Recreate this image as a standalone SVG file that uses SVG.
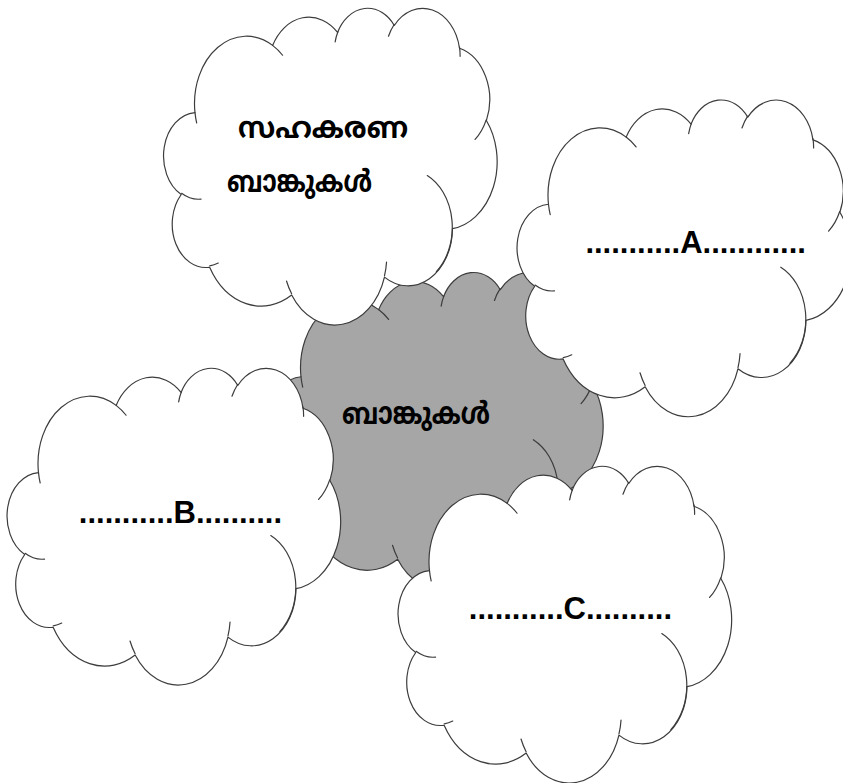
<svg xmlns="http://www.w3.org/2000/svg" xmlns:xlink="http://www.w3.org/1999/xlink" width="843" height="783" viewBox="0 0 843 783">
<style>
.outline{stroke:#3c3c3c;stroke-width:0.36;stroke-linejoin:round}
.hk{fill:none;stroke:#3c3c3c;stroke-width:0.36;stroke-linecap:round}
.white{fill:#ffffff}
.gray{fill:#a6a6a6}
.ml{font-family:"Noto Sans Malayalam","Noto Sans",sans-serif;font-size:30px;font-weight:bold;fill:#000}
.lbl{font-family:"Liberation Sans",Arial,sans-serif;font-size:31px;font-weight:bold;fill:#000}
</style>
<defs>
<path id="cloud" d="M9.03,33.26 A15.63,21.27 0 0 1 32.42,12.04 A12.35,16.82 0 0 1 51.98,7.94 A10.10,13.76 0 0 1 69.06,5.74 A11.24,15.27 0 0 1 88.70,12.91 A12.35,16.84 0 0 1 96.80,35.78 A15.68,21.34 0 0 1 86.58,69.91 A13.39,18.21 0 0 1 66.10,85.21 A15.63,21.33 0 0 1 38.15,90.89 A17.87,24.41 0 0 1 13.44,82.10 A10.09,13.70 0 0 1 4.89,59.14 A10.06,13.76 0 0 1 9.03,33.26 Z"/>
<path id="hooks" d="M10.86,60.59 A10.06,13.76 0 0 1 5.00,58.75 M16.04,80.78 A10.09,13.70 0 0 1 13.47,81.67 M38.14,90.49 A15.63,21.33 0 0 1 36.60,86.46 M66.73,80.44 A15.63,21.33 0 0 1 66.11,84.86 M79.00,53.13 A13.39,18.21 0 0 1 81.74,83.47 M96.75,35.54 A12.35,16.84 0 0 1 93.40,41.74 M88.71,12.56 A11.24,15.27 0 0 1 88.89,15.49 M67.31,9.15 A11.24,15.27 0 0 1 69.03,5.42 M51.25,10.93 A10.10,13.76 0 0 1 52.08,7.71 M32.41,12.02 A15.63,21.27 0 0 1 35.42,15.14 M9.55,36.55 A15.63,21.27 0 0 1 9.03,33.26"/>
</defs>
<rect width="843" height="783" fill="#ffffff"/>

<g id="node-banks">
<g transform="translate(271,271.5) scale(3.32,3.166)">
<use xlink:href="#cloud" class="gray outline"/>
<use xlink:href="#hooks" class="hk"/>
</g>
<text class="ml" x="342" y="424" textLength="148" lengthAdjust="spacingAndGlyphs">ബാങ്കുകൾ</text>
</g>

<g id="node-cooperative">
<g transform="translate(165,7.3) scale(3.32,3.166)">
<use xlink:href="#cloud" class="white outline"/>
<use xlink:href="#hooks" class="hk"/>
</g>
<text class="ml" x="238" y="138" textLength="170" lengthAdjust="spacingAndGlyphs">സഹകരണ</text>
<text class="ml" x="227" y="192" textLength="145" lengthAdjust="spacingAndGlyphs">ബാങ്കുകൾ</text>
</g>

<g id="node-A">
<g transform="translate(518.5,99) scale(3.32,3.166)">
<use xlink:href="#cloud" class="white outline"/>
<use xlink:href="#hooks" class="hk"/>
</g>
<text class="lbl" x="585.4" y="253">...........A............</text>
</g>

<g id="node-B">
<g transform="translate(8.5,367.3) scale(3.32,3.166)">
<use xlink:href="#cloud" class="white outline"/>
<use xlink:href="#hooks" class="hk"/>
</g>
<text class="lbl" x="78.8" y="523">...........B..........</text>
</g>

<g id="node-C">
<g transform="translate(399.5,465.3) scale(3.32,3.166)">
<use xlink:href="#cloud" class="white outline"/>
<use xlink:href="#hooks" class="hk"/>
</g>
<text class="lbl" x="468.8" y="619">...........C..........</text>
</g>
</svg>
